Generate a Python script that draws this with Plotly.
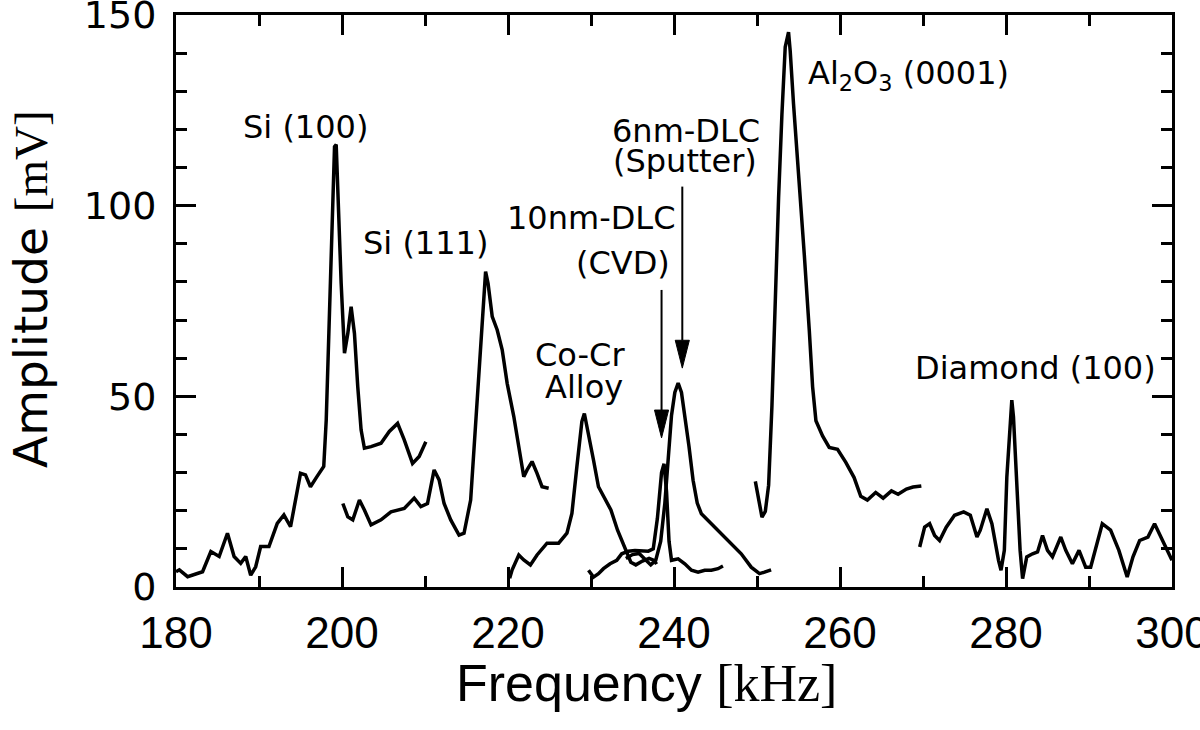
import plotly.graph_objects as go

# ---------------- data ----------------
si100_f = [180.0, 180.4, 181.4, 183.2, 184.2, 185.2, 186.2, 187.0, 187.8, 188.4, 189.0, 189.6, 190.2, 191.2,
           192.2, 193.0, 193.8, 194.4, 195.0, 195.6, 196.2, 197.0, 197.8, 198.1, 198.5, 198.9, 199.1, 199.3,
           199.5, 199.9, 200.3, 200.7, 201.1, 201.5, 201.9, 202.3, 202.7, 203.5, 204.7, 205.7, 206.7, 207.5,
           208.5, 209.3, 210.1]
si100_a = [4.0, 4.5, 2.7, 4.0, 9.3, 8.0, 14.1, 8.0, 6.2, 8.0, 3.1, 5.3, 10.6, 10.6,
           16.7, 18.9, 15.8, 22.8, 29.8, 29.4, 26.3, 29.0, 31.6, 43.8, 70.0, 102.4, 115.5, 116.0,
           103.2, 79.6, 61.3, 66.5, 73.5, 66.5, 52.5, 41.2, 36.4, 36.8, 37.7, 40.8, 42.9, 38.6,
           32.4, 34.2, 38.1]

si111_f = [200.1, 200.7, 201.3, 202.1, 202.7, 203.5, 204.7, 205.9, 207.5, 208.7, 209.5, 210.3, 211.1,
           211.7, 212.3, 213.1, 214.1, 214.7, 215.5, 216.1, 216.7, 217.1, 217.3, 217.6, 218.1, 218.7,
           219.3, 219.9, 220.7, 221.3, 221.9, 222.3, 222.9, 223.5, 224.1, 224.9]
si111_a = [21.9, 18.4, 17.6, 22.8, 20.2, 16.3, 17.6, 19.7, 20.6, 23.3, 21.1, 21.9, 30.7,
           28.1, 21.9, 17.6, 13.6, 14.1, 22.8, 42.9, 64.8, 77.9, 82.7, 79.6, 70.9, 67.4,
           62.2, 53.4, 44.7, 36.8, 28.9, 30.7, 32.9, 29.8, 26.3, 25.9]

cocr_f = [220.2, 220.5, 221.3, 221.9, 222.7, 223.5, 224.7, 226.1, 227.1, 227.7, 228.3, 228.9, 229.2,
          229.7, 230.3, 230.9, 231.5, 232.4, 233.2, 234.0, 234.8, 235.4, 236.2, 237.0, 237.6, 237.9]
cocr_a = [2.3, 4.5, 8.4, 7.1, 5.8, 8.4, 11.5, 11.5, 14.1, 19.3, 31.6, 43.4, 45.5,
          40.3, 33.3, 26.3, 23.7, 20.2, 14.9, 10.6, 6.5, 5.8, 6.8, 7.5, 7.0, 6.0]

cvd_f = [229.7, 230.3, 230.9, 231.5, 232.3, 233.1, 233.7, 234.5, 235.3, 236.1, 236.9, 237.5, 238.0,
         238.5, 238.8, 239.1, 239.4, 239.7, 240.5, 241.3, 242.1, 242.9, 243.7, 244.5, 245.3, 245.9]
cvd_a = [4.4, 2.6, 3.5, 4.8, 6.1, 7.0, 8.7, 9.4, 9.6, 9.6, 9.4, 10.0, 18.0,
         30.0, 32.3, 25.0, 12.0, 7.0, 7.4, 6.1, 4.4, 3.9, 4.4, 4.4, 4.8, 5.5]

sputter_f = [234.2, 235.0, 235.8, 236.6, 237.2, 237.8, 238.4, 238.9, 239.3, 239.7, 240.1, 240.5, 240.9,
             241.3, 241.8, 242.3, 242.8, 243.3, 244.5, 245.7, 246.9, 248.1, 249.3, 250.3, 250.9, 251.7]
sputter_a = [7.5, 8.5, 8.8, 7.0, 5.8, 7.0, 12.0, 22.0, 35.0, 45.0, 51.0, 53.5, 51.0,
             45.0, 37.0, 28.0, 22.0, 19.2, 16.6, 14.0, 11.4, 8.7, 5.2, 3.5, 3.9, 4.5]

al2o3_f = [249.8, 250.2, 250.6, 251.0, 251.4, 251.8, 252.2, 252.6, 253.0, 253.4, 253.8, 254.0, 254.4,
           255.1, 255.7, 256.3, 256.7, 257.1, 257.9, 258.7, 259.7, 260.7, 261.7, 262.5, 263.3, 264.3,
           265.2, 266.2, 267.0, 268.0, 268.8, 269.8]
al2o3_a = [27.7, 22.8, 18.3, 19.8, 26.7, 47.5, 77.2, 102.0, 123.8, 141.6, 145.5, 140.6, 126.7,
           106.9, 87.1, 67.3, 52.5, 43.6, 39.6, 36.6, 36.1, 32.7, 28.7, 23.8, 22.8, 24.8,
           23.3, 25.2, 24.3, 25.7, 26.2, 26.5]

diamond_f = [269.6, 270.2, 270.8, 271.4, 272.0, 272.8, 273.8, 274.9, 275.7, 276.5, 276.9, 277.7, 278.3,
             278.7, 279.1, 279.4, 279.8, 280.1, 280.5, 280.7, 280.9, 281.3, 281.7, 282.0, 282.5, 283.2,
             283.8, 284.4, 285.0, 285.6, 286.6, 287.2, 288.0, 288.8, 289.6, 290.2, 291.6, 292.6, 293.6,
             294.6, 295.3, 296.1, 297.1, 297.9, 298.9, 299.6, 300.0]
diamond_a = [10.5, 15.7, 16.6, 13.5, 12.2, 15.7, 18.8, 19.7, 18.8, 13.1, 14.9, 20.5, 16.6,
             11.4, 7.0, 4.4, 9.6, 28.8, 42.8, 49.0, 44.6, 27.1, 9.6, 2.2, 7.9, 8.7,
             9.2, 13.5, 9.6, 7.9, 13.1, 9.6, 6.1, 9.6, 5.2, 5.2, 16.6, 14.9, 9.6,
             2.6, 7.9, 12.2, 13.1, 16.6, 12.2, 8.7, 7.0]

x_ticks = [180, 200, 220, 240, 260, 280, 300]
y_ticks = [0, 50, 100, 150]

series = [
    (si100_f, si100_a), (si111_f, si111_a), (cocr_f, cocr_a), (cvd_f, cvd_a),
    (sputter_f, sputter_a), (al2o3_f, al2o3_a), (diamond_f, diamond_a),
]

# ---------------- figure ----------------
fig = go.Figure()
for f, a in series:
    fig.add_trace(go.Scatter(x=f, y=a, mode="lines",
                             line=dict(color="black", width=3.5),
                             showlegend=False, hoverinfo="skip"))

LBL = dict(family="DejaVu Sans, Arial, sans-serif", size=32, color="black")

labels = [
    ("Si (100)", 195.6, 120.6, "center"),
    ("Si (111)", 210.1, 90.2, "center"),
    ("10nm-DLC", 230.0, 96.8, "center"),
    ("(CVD)", 233.9, 85.0, "center"),
    ("6nm-DLC", 241.5, 119.6, "center"),
    ("(Sputter)", 241.3, 111.7, "center"),
    ("Co-Cr", 228.7, 60.8, "center"),
    ("Alloy", 229.1, 52.5, "center"),
    ("Al<sub>2</sub>O<sub>3</sub> (0001)", 255.9, 134.3, "left"),
    ("Diamond (100)", 283.6, 57.4, "center"),
]
for t, x, y, xa in labels:
    fig.add_annotation(x=x, y=y, text=t, showarrow=False, xanchor=xa, yanchor="middle", font=LBL)

# arrows: head (x, y), tail y ; heads drawn as narrow filled triangles
arrows = [
    (238.5, 39.1, 77.9),
    (241.0, 57.4, 105.0),
]
head_half_w = 0.85   # kHz  (~7 px)
head_len = 7.3       # mV   (~28 px)
for hx, hy, ty in arrows:
    fig.add_shape(type="line", x0=hx, x1=hx, y0=hy + head_len, y1=ty, xref="x", yref="y",
                  line=dict(color="black", width=2))
    fig.add_shape(type="path", xref="x", yref="y",
                  path=f"M {hx - head_half_w},{hy + head_len} L {hx + head_half_w},{hy + head_len} L {hx},{hy} Z",
                  fillcolor="black", line=dict(color="black", width=1))

# axis titles (as annotations for exact placement)
fig.add_annotation(
    xref="paper", yref="paper", x=0.472, y=-0.167, xanchor="center", yanchor="middle", showarrow=False,
    text='Frequency <span style="font-family:Liberation Serif, Times New Roman, serif">[kHz]</span>',
    font=dict(family="Liberation Sans, Arial, sans-serif", size=52, color="black"))
fig.add_annotation(
    xref="paper", yref="paper", x=-0.1456, y=0.521, xanchor="center", yanchor="middle", showarrow=False,
    textangle=-90,
    text='Amplitude <span style="font-family:Liberation Serif, Times New Roman, serif">[mV]</span>',
    font=dict(family="DejaVu Sans, Arial, sans-serif", size=47, color="black"))

fig.update_layout(
    width=1200, height=730,
    margin=dict(l=176, r=28, t=15, b=143, autoexpand=False),
    paper_bgcolor="white", plot_bgcolor="white",
    showlegend=False,
)

fig.update_xaxes(
    range=[180, 300], tickvals=x_ticks, ticktext=[str(v) for v in x_ticks],
    showgrid=False, zeroline=False, automargin=False,
    showline=True, linecolor="black", linewidth=3, mirror="allticks",
    ticks="inside", ticklen=20, tickwidth=2.5, tickcolor="black",
    minor=dict(dtick=10, ticks="inside", ticklen=11, tickwidth=2.5, tickcolor="black", showgrid=False),
    tickfont=dict(family="Liberation Sans, Arial, sans-serif", size=44, color="black"),
    ticklabelstandoff=5,
    ticklabeloverflow="allow",
)
fig.update_yaxes(
    range=[0, 150], tickvals=y_ticks, ticktext=[str(v) for v in y_ticks],
    showgrid=False, zeroline=False, automargin=False,
    showline=True, linecolor="black", linewidth=3, mirror="allticks",
    ticks="inside", ticklen=20, tickwidth=2.5, tickcolor="black",
    minor=dict(dtick=10, ticks="inside", ticklen=11, tickwidth=2.5, tickcolor="black", showgrid=False),
    tickfont=dict(family="DejaVu Sans, Arial, sans-serif", size=38, color="black"),
    ticklabelstandoff=9,
    ticklabeloverflow="allow",
)

fig.write_html("out.html",
               config={"displayModeBar": False},
               post_script="document.body.style.margin='0';document.body.style.padding='0';"
                           "document.body.style.overflow='hidden';")
